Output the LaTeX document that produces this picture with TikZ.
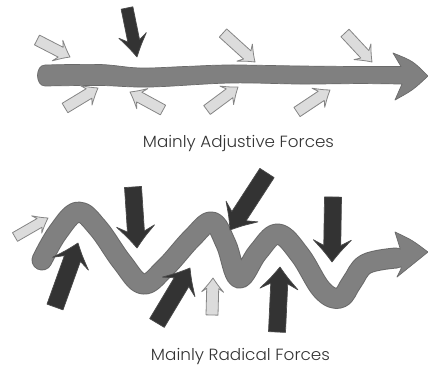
\documentclass[tikz,border=0pt]{standalone}
\usepackage{graphicx}
\usepackage{fontspec}
\setmainfont{Poppins}[UprightFont=* Light]
\definecolor{bandc}{HTML}{808080}
\definecolor{bandedge}{HTML}{6A6A6A}
\definecolor{darkc}{HTML}{333333}
\definecolor{darkedge}{HTML}{4A4A4A}
\definecolor{lightc}{HTML}{DCDCDC}
\definecolor{lightedge}{HTML}{858585}
\tikzset{
  lightarrow/.style={fill=lightc,draw=lightedge,line width=0.8pt,line join=round},
  darkarrow/.style={fill=darkc,draw=darkedge,line width=0.7pt,line join=round},
  captext/.style={inner sep=0pt,anchor=base,text=darkc},
  bandfill/.style={fill=bandc,draw=bandedge,line width=0.7pt,line join=round}
}
% tail x, tail y, tip x, tip y, shaft half-width, head half-width, head length, style
\newcommand\farrow[8]{%
  \pgfmathsetmacro\faAng{atan2(-(#4-#2),#3-#1)}%
  \pgfmathsetmacro\faLen{veclen(#3-#1,#4-#2)}%
  \pgfmathsetmacro\faBarb{\faLen-#7}%
  \pgfmathsetmacro\faJoin{\faLen-0.75*#7}%
  \pgfmathsetmacro\faCa{\faLen-0.45*#7}%
  \pgfmathsetmacro\faCb{0.4*#6}%
  \begin{scope}[shift={(#1,#2)},rotate=\faAng]
    \path[#8] (0,-#5) -- (\faJoin,-#5) -- (\faBarb,-#6)
      .. controls (\faCa,-\faCb) .. (\faLen,0)
      .. controls (\faCa,\faCb) .. (\faBarb,#6) -- (\faJoin,#5) -- (0,#5) -- cycle;
  \end{scope}}
\begin{document}
\begin{tikzpicture}[x=1pt,y=-1pt]
\useasboundingbox (0,0) rectangle (428,367);
% ---------- top: adjustive ----------
\filldraw[bandfill]
  plot[smooth,tension=0.6] coordinates {(45,65) (100,64.5) (140,68) (185,66.5) (230,65) (300,66) (360,66.5) (401,66.5)}
  -- (393,53) .. controls (413,61) .. (428,76) .. controls (413,90) .. (395,100) -- (402,84)
  -- plot[smooth,tension=0.6] coordinates {(360,83.5) (300,84) (230,83) (150,87) (100,85.5) (45,86)}
  .. controls (35,86) and (35,65) .. (45,65) -- cycle;
\farrow{37}{40}{70}{57}{5.5}{11.5}{14}{lightarrow}
\farrow{223}{33}{255}{62}{5.5}{11.5}{14}{lightarrow}
\farrow{345}{33}{372}{62}{5.5}{11.5}{14}{lightarrow}
\farrow{65}{108}{98}{88}{5.5}{11.5}{14}{lightarrow}
\farrow{163}{110}{130}{92}{5.5}{11.5}{14}{lightarrow}
\farrow{207}{110}{238}{87}{5.5}{11.5}{14}{lightarrow}
\farrow{297}{112}{330}{90}{5.5}{11.5}{14}{lightarrow}
\farrow{127}{8}{137}{57}{6}{14}{22}{darkarrow}
\node[captext] (t1) at (238.5,147.7) {\resizebox{191pt}{12.2pt}{Mainly Adjustive Forces}};
% ---------- bottom: radical ----------
\draw[bandedge,line width=21pt,line cap=round,line join=round]
  plot[smooth,tension=0.65] coordinates {(42,260) (58,232) (78,212) (98,228) (122,262) (143,284) (165,268) (192,238) (212,222) (226,244) (239,278) (258,252) (278,234) (300,255) (322,290) (340,298) (352,282) (366,264) (396,258)};
\filldraw[bandfill] (400,248) -- (395,232) .. controls (412,240) .. (428,252) .. controls (412,264) .. (397,277) -- (401,269) -- cycle;
\draw[bandc,line width=19pt,line cap=round,line join=round]
  plot[smooth,tension=0.65] coordinates {(42,260) (58,232) (78,212) (98,228) (122,262) (143,284) (165,268) (192,238) (212,222) (226,244) (239,278) (258,252) (278,234) (300,255) (322,290) (340,298) (352,282) (366,264) (396,258)};
\farrow{133}{187}{137}{248}{8.5}{19}{22}{darkarrow}
\farrow{267}{173}{230}{230}{8.5}{19}{22}{darkarrow}
\farrow{333}{197}{332}{262}{8.5}{19}{22}{darkarrow}
\farrow{55}{307}{78}{243}{8.5}{19}{22}{darkarrow}
\farrow{157}{323}{190}{268}{8.5}{19}{22}{darkarrow}
\farrow{277}{332}{280}{267}{8.5}{19}{22}{darkarrow}
\farrow{15}{237}{48}{218}{5}{10}{13}{lightarrow}
\farrow{212}{315}{213}{278}{6}{11}{14}{lightarrow}
\node[captext] (t2) at (240.5,360.7) {\resizebox{179pt}{12.2pt}{Mainly Radical Forces}};
\end{tikzpicture}
\end{document}
